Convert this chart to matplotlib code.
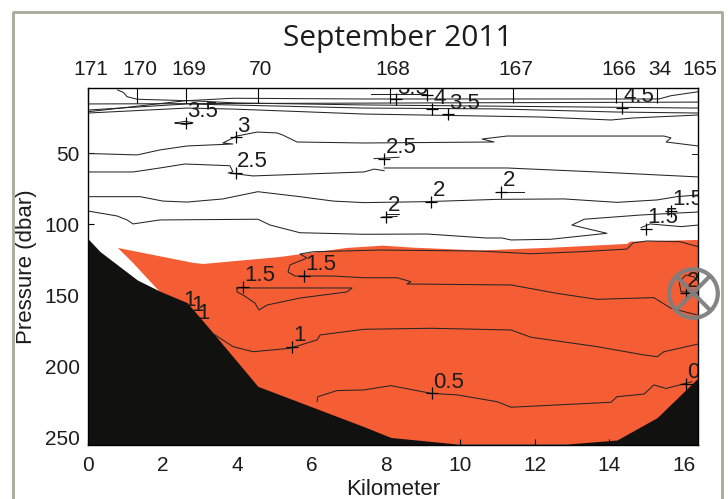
import matplotlib
matplotlib.use('Agg')
import matplotlib.pyplot as plt
from matplotlib.lines import Line2D
from matplotlib.transforms import ScaledTranslation

plt.rcParams['font.family'] = ['Liberation Sans', 'DejaVu Sans']

# bottom topography (km, dbar)
bottom_km = [0, 0.32, 1.32, 1.93, 2.66, 3.33, 4.56, 7.41, 8.13, 9.91, 12.86, 14.2, 15.28, 16.38]
bottom_dbar = [110, 119, 139, 147, 155, 175.5, 214, 242.4, 250, 254.6, 254.6, 251.8, 236, 208]

# orange water mass outline
water_km = [0.8, 1.21, 1.93, 1.93, 16.38, 16.38, 16.35, 14.55, 14.47, 12.48, 10.52, 8.72, 7.92, 6.95, 5.15, 3.09, 2.82]
water_dbar = [116.5, 127.1, 147.5, 255, 255, 111, 110.9, 112.1, 113.7, 116.3, 118.3, 116.3, 114.9, 116.5, 122.9, 127.8, 127]

# contours, each one is (km list, dbar list)
contours = [
    # top of the section
    ([0.8, 0.95, 1.05, 1.32, 2.66, 3.89, 7.41, 15.33, 15.65, 16.38],
     [5.3, 7, 10, 11.8, 12.8, 11.1, 11.6, 11.6, 9.3, 6.5]),
    ([0, 16.38], [15.1, 13.8]),
    ([0, 2.66, 4, 7.41, 16.38], [20.6, 12.7, 14.4, 15.8, 18]),
    ([0, 2.66, 7.41, 10.98, 14.2, 16.38], [19.4, 15.1, 18, 18.6, 20.8, 21.5]),
    ([0, 2.66, 3.89, 7.41, 12.16, 14.04, 14.63, 16.38], [21.5, 18, 18.7, 22.2, 24.3, 26.4, 25, 22.9]),
    ([7.6, 9.1], [8.2, 8.2]),
    # 3.5
    ([2.34, 2.6, 2.82, 2.6, 2.34], [28.5, 27.4, 28.3, 29.6, 28.5]),
    # 3
    ([0, 1.32, 1.93, 2.66, 3.89, 3.62, 4, 4.54, 5.07, 5.23, 5.61, 7.41, 10.9, 10.58, 11.25, 15.46, 15.65, 15.52, 16.38],
     [50, 51, 47.5, 44.7, 43.3, 42.6, 37.7, 34.9, 35.5, 37, 41.9, 42.6, 41.9, 39.8, 37.7, 37.7, 39, 41.9, 44.7]),
    ([16.21, 16.38], [50.4, 50.4]),
    # 2.5
    ([0, 1.21, 1.93, 2.6, 3.81, 3.89, 3.76, 4.43, 7.41, 7.68, 7.95],
     [63, 63, 60.2, 57.4, 58.6, 63, 63.7, 65.8, 63, 61, 62.1]),
    ([7.95, 11.25, 13.66, 16.38], [60.2, 60.2, 63, 66.5]),
    ([7.68, 8.0, 8.35], [53.6, 53.2, 52.6]),
    # 2
    ([0, 1.4, 2.01, 2.66, 3.62, 4.56, 5.69, 6.58, 7.41, 9.1, 10.98, 12.78, 14.2, 15.28, 15.81, 16.38],
     [80.4, 80.4, 83.5, 84.2, 82, 76.9, 80.4, 83.5, 84.6, 83.9, 82.3, 82, 84.4, 82.7, 80.4, 79.2]),
    ([7.9, 8.3], [94.8, 94.3]),
    ([8.0, 8.35], [92.6, 92.6]),
    ([11.0, 11.7], [76.9, 76.9]),
    # lower white part
    ([0, 0.78, 1.05, 1.21, 1.93, 4.56, 4.89, 5.69, 7.41, 9.1, 10.68, 11.11, 11.36, 12.43, 13.93, 12.99, 13.32, 14.85, 16.38],
     [90.5, 94, 96.8, 99.6, 96.8, 96.3, 100.4, 105.8, 106.9, 106.7, 109.5, 109.5, 110.9, 110.4, 106.2, 100.4, 96.3, 93.3, 91.2]),
    ([14.85, 15.09, 15.92, 16.38], [102.2, 99.6, 101.5, 100.4]),
    # 1.5 upper
    ([16.38, 15.89, 15, 14.63, 14.47, 13.21, 11.89, 10.52, 7.84, 6.04, 5.69, 5.88, 5.42, 5.37, 5.56, 6.58, 7.41, 8.3, 8.67,
      8.56, 11.36, 12.59, 13.66, 15.19, 15.65, 16.35],
     [115.6, 112.1, 111.6, 113, 117.3, 119.2, 120.6, 118.7, 118, 119.2, 120.8, 123.6, 128.5, 133.5, 136.3, 136.3, 137.5,
      137.5, 140.3, 141.9, 142.6, 148.5, 152.7, 151.5, 159, 163.7]),
    # 1.5 closed patch
    ([4, 7.09, 6.95, 5.69, 4.81, 4.59, 4.48, 4.16, 4, 4],
     [144.7, 144.7, 147.5, 151.8, 156.7, 160.2, 155.3, 149.6, 147.5, 144.7]),
    # 2 at the right edge
    ([16.38, 15.92, 15.87, 16.05, 16.27, 16.38], [148.2, 147.3, 140.5, 135.6, 137, 140]),
    # 1
    ([3.33, 3.89, 4.43, 5.42, 6.15, 6.23, 7.41, 9.21, 11.36, 11.89, 13.66, 14.93, 15.28, 15.46, 16.38],
     [176.4, 186, 189.6, 187.2, 181.3, 177.8, 173.8, 173.1, 174.3, 179.4, 186, 191.9, 193.1, 189.6, 184.2]),
    # 0.5
    ([6.15, 6.17, 6.68, 7.41, 8.13, 9.21, 9.91, 10.98, 11.36, 14.04, 14.2, 14.93, 15.19, 15.52, 16.05, 16.21],
     [224.8, 221.3, 217, 216.5, 213.5, 218.9, 220, 224.8, 228.7, 225.2, 221.3, 219.4, 213, 215.5, 211.8, 210.7]),
]

# contour labels with their + markers
label_km = [2.63, 3.97, 3.97, 7.95, 8.0, 9.21, 11.09, 14.98, 15.65, 14.34, 9.66, 9.23, 9.1, 8.27,
            4.16, 5.8, 5.48, 9.23, 16.05, 16.05]
label_dbar = [28.3, 38.6, 63.5, 53.9, 94.7, 83.9, 77.1, 103.2, 90.3, 17.7, 22.4, 18.9, 8.8, 11.8,
              143.8, 136.3, 186, 218.9, 212.3, 148]
label_text = ['3.5', '3', '2.5', '2.5', '2', '2', '2', '1.5', '1.5', '4.5', '3.5', '4', '3.5', '3.5',
              '1.5', '1.5', '1', '0.5', '0', '2']

# the three 1 labels on the slope, their + is lost in the black
slope_km = [2.52, 2.74, 2.9]
slope_dbar = [161.5, 165, 170.8]

# top axis: station numbers
station_km = [0, 1.32, 2.63, 4.57, 8.11, 11.41, 14.17, 15.28, 16.37]
station_names = ['171', '170', '169', '70', '168', '167', '166', '34', '165']

text_color = '#1c1c1c'
line_color = '#262626'

fig = plt.figure(figsize=(7.28, 4.99), dpi=100, facecolor='white')
ax = fig.add_axes([88/728, 1 - 445/499, 610/728, 357/499])

ax.fill(water_km, water_dbar, color='#F55D35', lw=0, zorder=1)
ax.fill_between(bottom_km, bottom_dbar, 256, color='#111110', lw=0, zorder=2)

for km, dbar in contours:
    ax.plot(km, dbar, color=line_color, lw=0.75, zorder=3)

ax.plot(label_km, label_dbar, '+', color='black', ms=8.5, mew=0.9, zorder=4)
for km, dbar, txt in zip(label_km + slope_km, label_dbar + slope_dbar, label_text + ['1', '1', '1']):
    ax.annotate(txt, (km, dbar), xytext=(1, 4), textcoords='offset points', fontsize=16,
                color=text_color, clip_on=True, zorder=5)

ax.set_xlim(0, 16.376)
ax.set_ylim(255.3, 3.87)
ax.set_xticks(range(0, 17, 2))
ax.set_yticks([50, 100, 150, 200, 250])
ax.tick_params(axis='x', direction='in', length=4.5, width=0.8, top=True, labelsize=15, pad=8, labelcolor=text_color)
ax.tick_params(axis='y', direction='in', length=4.5, width=0.8, labelsize=15, pad=6, labelcolor=text_color)
ax.set_ylabel('Pressure (dbar)', fontsize=16, color=text_color, labelpad=5.5)
for s in ax.spines.values():
    s.set_linewidth(1.0)
    s.set_zorder(6)

top = ax.twiny()
top.set_xlim(ax.get_xlim())
top.set_xticks(station_km)
top.set_xticklabels(station_names)
top.tick_params(axis='x', direction='in', length=11, width=0.8, labelsize=15, pad=6.5, labelcolor=text_color)
shift = ScaledTranslation(2.5 / 100, 0, fig.dpi_scale_trans)
for lab in top.get_xticklabels():
    lab.set_transform(lab.get_transform() + shift)
for s in top.spines.values():
    s.set_visible(False)

# grey "crossed out" mark at the right edge
ax.plot([16.24], [148.2], 'o', ms=35, mfc='none', mec='#7f7f7f', mew=3.0, alpha=0.95, clip_on=False, zorder=7)
ax.plot([16.24], [148.2], 'x', ms=25, mec='#7f7f7f', mew=3.0, alpha=0.95, clip_on=False, zorder=7)

fig.text(398/728, 1 - 46/499, 'September 2011', fontsize=21.5, family='Open Sans', color=text_color, ha='center', va='baseline')
fig.text(393/728, 1 - 495/499, 'Kilometer', fontsize=16, color=text_color, ha='center', va='baseline')

# page frame, open at the bottom
frame = dict(color='#a9a99b', lw=2.0, transform=fig.transFigure)
fig.add_artist(Line2D([12.5/728, 12.5/728, 721.5/728, 721.5/728], [0, 1 - 11.5/499, 1 - 11.5/499, 0], **frame))

fig.savefig('out.png', dpi=100)
